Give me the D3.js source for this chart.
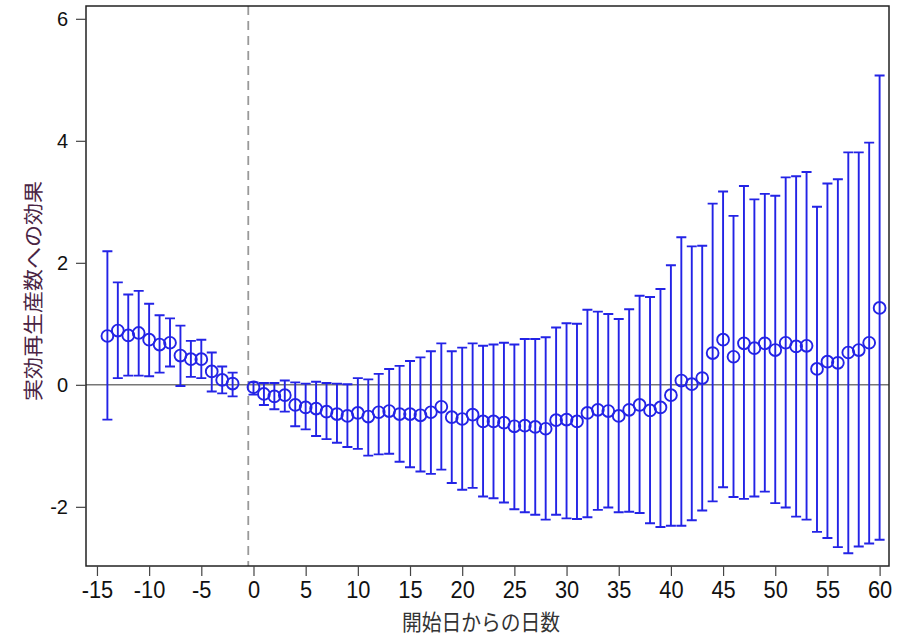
<!DOCTYPE html>
<html>
<head>
<meta charset="utf-8">
<script src="https://cdn.jsdelivr.net/npm/d3@7"></script>
<style>
  body { margin: 0; background: #fff; }
  svg { display: block; }
</style>
</head>
<body>
<svg id="chart" width="900" height="636"></svg>
<script>
'use strict';

// days relative to start, point estimate and 95% interval
const days = [
  -14, -13, -12, -11, -10, -9, -8, -7, -6, -5, -4, -3, -2,
  0, 1, 2, 3, 4, 5, 6, 7, 8, 9, 10, 11, 12, 13, 14, 15, 16, 17, 18, 19, 20,
  21, 22, 23, 24, 25, 26, 27, 28, 29, 30, 31, 32, 33, 34, 35, 36, 37, 38, 39, 40,
  41, 42, 43, 44, 45, 46, 47, 48, 49, 50, 51, 52, 53, 54, 55, 56, 57, 58, 59, 60
];
const est = [
  0.80, 0.89, 0.81, 0.85, 0.74, 0.66, 0.69, 0.48, 0.42, 0.42, 0.22, 0.08, 0.02,
  -0.04, -0.15, -0.19, -0.17, -0.33, -0.37, -0.39, -0.44, -0.48, -0.51, -0.46, -0.52, -0.45, -0.43, -0.48, -0.48, -0.50, -0.45, -0.36, -0.53, -0.56,
  -0.49, -0.60, -0.60, -0.62, -0.68, -0.67, -0.69, -0.72, -0.58, -0.57, -0.60, -0.46, -0.41, -0.43, -0.51, -0.41, -0.33, -0.42, -0.37, -0.17,
  0.07, 0.01, 0.11, 0.52, 0.74, 0.46, 0.68, 0.60, 0.68, 0.57, 0.69, 0.63, 0.64, 0.26, 0.38, 0.36, 0.53, 0.57, 0.69, 1.26
];
const upper = [
  2.19, 1.68, 1.48, 1.54, 1.33, 1.14, 1.09, 0.97, 0.72, 0.74, 0.53, 0.30, 0.20,
  0.04, 0.03, 0.03, 0.07, 0.04, 0.02, 0.05, 0.03, 0.02, 0.01, 0.11, 0.09, 0.18, 0.26, 0.31, 0.39, 0.45, 0.55, 0.68, 0.55, 0.61,
  0.68, 0.64, 0.66, 0.69, 0.66, 0.75, 0.75, 0.78, 0.94, 1.01, 1.00, 1.23, 1.20, 1.16, 1.08, 1.24, 1.46, 1.44, 1.57, 1.96,
  2.42, 2.27, 2.28, 2.97, 3.17, 2.77, 3.26, 3.04, 3.13, 3.10, 3.40, 3.42, 3.49, 2.92, 3.30, 3.37, 3.81, 3.81, 3.97, 5.07
];
const lower = [
  -0.57, 0.11, 0.15, 0.15, 0.14, 0.20, 0.30, -0.02, 0.13, 0.11, -0.11, -0.14, -0.19,
  -0.16, -0.33, -0.40, -0.44, -0.68, -0.73, -0.84, -0.89, -0.95, -1.02, -1.05, -1.16, -1.14, -1.13, -1.26, -1.35, -1.42, -1.46, -1.39, -1.61, -1.72,
  -1.69, -1.83, -1.86, -1.93, -2.04, -2.09, -2.13, -2.21, -2.13, -2.19, -2.20, -2.17, -2.05, -2.01, -2.09, -2.08, -2.10, -2.27, -2.33, -2.31,
  -2.31, -2.22, -2.06, -1.91, -1.68, -1.84, -1.87, -1.83, -1.75, -1.94, -2.01, -2.16, -2.21, -2.41, -2.51, -2.66, -2.76, -2.65, -2.60, -2.54
];

const xTicks = [-15, -10, -5, 0, 5, 10, 15, 20, 25, 30, 35, 40, 45, 50, 55, 60];
const yTicks = [-2, 0, 2, 4, 6];
const eventLine = -0.5;

const xTitle = '開始日からの日数';
const yTitle = '実効再生産数への効果';

const svg = d3.select('#chart');
const plot = {left: 86, right: 889, top: 6, bottom: 566};

const x = d3.scaleLinear().domain([-16.05, 60.9]).range([plot.left, plot.right]);
const y = d3.scaleLinear().domain([-2.97, 6.21]).range([plot.bottom, plot.top]);

const blue = '#2323e6';
const points = days.map((d, i) => ({day: d, est: est[i], lo: lower[i], hi: upper[i]}));

// reference lines
svg.append('line')
  .attr('x1', plot.left).attr('x2', plot.right)
  .attr('y1', y(0)).attr('y2', y(0))
  .attr('stroke', '#777').attr('stroke-width', 1.5);

svg.append('line')
  .attr('x1', x(eventLine)).attr('x2', x(eventLine))
  .attr('y1', plot.top).attr('y2', plot.bottom)
  .attr('stroke', '#999').attr('stroke-width', 1.8)
  .attr('stroke-dasharray', '9,6');

// error bars
const bars = svg.append('g').attr('stroke', blue).attr('stroke-width', 1.9).attr('fill', 'none');
const capHalf = 5;
points.forEach(p => {
  const cx = x(p.day);
  bars.append('path')
    .attr('d', 'M' + cx + ',' + y(p.lo) + 'V' + y(p.hi) +
      'M' + (cx - capHalf) + ',' + y(p.hi) + 'H' + (cx + capHalf) +
      'M' + (cx - capHalf) + ',' + y(p.lo) + 'H' + (cx + capHalf));
});

// markers
svg.append('g').selectAll('circle')
  .data(points)
  .join('circle')
  .attr('cx', d => x(d.day))
  .attr('cy', d => y(d.est))
  .attr('r', 5.9)
  .attr('fill', 'none')
  .attr('stroke', blue)
  .attr('stroke-width', 1.9);

// frame
svg.append('rect')
  .attr('x', plot.left).attr('y', plot.top)
  .attr('width', plot.right - plot.left).attr('height', plot.bottom - plot.top)
  .attr('fill', 'none').attr('stroke', '#222').attr('stroke-width', 1.5);

const plainInt = d => String(d);

// y axis
const yAxis = svg.append('g').attr('transform', 'translate(' + plot.left + ',0)')
  .call(d3.axisLeft(y).tickValues(yTicks).tickSize(10).tickPadding(8).tickFormat(plainInt));
yAxis.select('.domain').remove();
yAxis.selectAll('line').attr('stroke', '#444').attr('stroke-width', 1.2);
yAxis.selectAll('text')
  .attr('font-family', 'Liberation Sans, Arial, sans-serif')
  .attr('font-size', 20).attr('fill', '#111');

// x axis
const xAxis = svg.append('g').attr('transform', 'translate(0,' + plot.bottom + ')')
  .call(d3.axisBottom(x).tickValues(xTicks).tickSize(10).tickPadding(6).tickFormat(plainInt));
xAxis.select('.domain').remove();
xAxis.selectAll('line').attr('stroke', '#444').attr('stroke-width', 1.2);
xAxis.selectAll('text')
  .attr('font-family', 'Liberation Sans, Arial, sans-serif')
  .attr('font-size', 23).attr('fill', '#111')
  .attr('transform', 'scale(0.95,1)');

// titles
svg.append('text')
  .attr('transform', 'translate(481,630) scale(0.9,1)')
  .attr('text-anchor', 'middle')
  .attr('font-family', 'Noto Sans CJK JP, sans-serif')
  .attr('font-size', 22).attr('fill', '#333')
  .text(xTitle);

svg.append('text')
  .attr('transform', 'translate(41,291) rotate(-90) scale(1,0.92)')
  .attr('text-anchor', 'middle')
  .attr('font-family', 'Noto Sans CJK JP, sans-serif')
  .attr('font-size', 22).attr('fill', '#4a2444')
  .text(yTitle);
</script>
</body>
</html>
